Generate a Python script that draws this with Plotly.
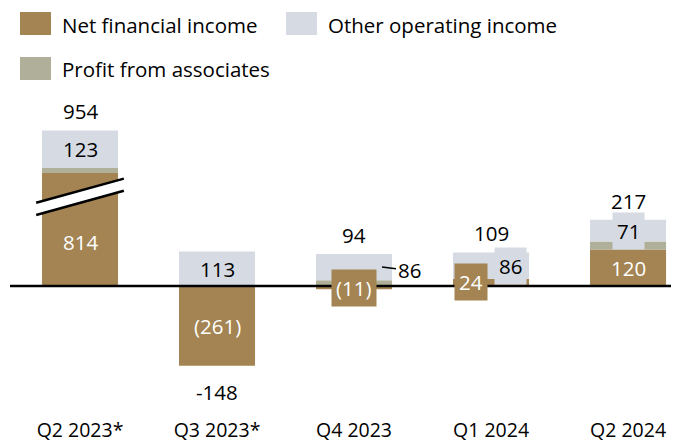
import plotly.graph_objects as go

quarters = ["Q2 2023*", "Q3 2023*", "Q4 2023", "Q1 2024", "Q2 2024"]
net_financial_income = [814, -261, -11, 24, 120]
profit_from_associates = [17, 0, 19, -1, 26]
other_operating_income = [123, 113, 86, 86, 71]
totals = [954, -148, 94, 109, 217]

BROWN = "#A38452"
LIGHT = "#D5DAE3"
GREY = "#B0B09A"
FONT = "Open Sans"
LABEL_SIZE = 20.5

# first bar is cut by an axis break, only this much of it is drawn
axis_break = 370
nfi_shown = [min(v, axis_break) for v in net_financial_income]

x = list(range(len(quarters)))
bar_width = 0.555

fig = go.Figure()
fig.add_trace(go.Bar(x=x, y=nfi_shown, marker_color=BROWN, width=bar_width, name="Net financial income"))
fig.add_trace(go.Bar(x=x, y=profit_from_associates, marker_color=GREY, width=bar_width, name="Profit from associates"))
fig.add_trace(go.Bar(x=x, y=other_operating_income, marker_color=LIGHT, width=bar_width, name="Other operating income"))
fig.update_traces(marker_line_width=0, showlegend=False, hoverinfo="skip")


def fmt(v):
    return f"({abs(v)})" if v < 0 else str(v)


# stack bounds
pos_top = []
neg_bottom = []
ooi_mid = []
for i in x:
    parts = [nfi_shown[i], profit_from_associates[i], other_operating_income[i]]
    pos_top.append(sum(p for p in parts if p > 0))
    neg_bottom.append(sum(p for p in parts if p < 0))
    base = sum(p for p in parts[:2] if p > 0)
    ooi_mid.append(base + other_operating_income[i] / 2)

annotations = []


def label(xv, yv, text, color="black", bg=None, **kw):
    d = dict(x=xv, y=yv, text=text, showarrow=False, font=dict(family=FONT, size=LABEL_SIZE, color=color))
    if bg:
        d.update(bgcolor=bg, borderpad=4)
    d.update(kw)
    annotations.append(d)


# totals
for i in x:
    if totals[i] >= 0:
        label(i, pos_top[i], str(totals[i]), yshift=19)
    else:
        label(i, neg_bottom[i], str(totals[i]), yshift=-26)

# segment labels
label(0, ooi_mid[0], fmt(other_operating_income[0]))
label(0, axis_break * 0.39, fmt(net_financial_income[0]), color="white")
label(1, ooi_mid[1], fmt(other_operating_income[1]))
label(1, net_financial_income[1] / 2, fmt(net_financial_income[1]), color="white")
label(2, net_financial_income[2] / 2, fmt(net_financial_income[2]), color="white", bg=BROWN)
label(2, ooi_mid[2], fmt(other_operating_income[2]), showarrow=True, arrowhead=0, arrowwidth=1.5,
      arrowcolor="black", standoff=0, xshift=28, ax=27, ay=3)
label(3, net_financial_income[3] / 2, fmt(net_financial_income[3]), color="white", bg=BROWN, xshift=-20)
label(3, ooi_mid[3], fmt(other_operating_income[3]), bg=LIGHT, xshift=19)
label(4, net_financial_income[4] / 2, fmt(net_financial_income[4]), color="white")
label(4, ooi_mid[4], fmt(other_operating_income[4]), bg=LIGHT)

shapes = []
# axis break marks on the first bar
bx0, bx1 = -0.32, 0.32
lo0, hi0, rise = 233, 273, 79
shapes.append(dict(type="path", xref="x", yref="y", layer="above",
                   path=f"M {bx0},{lo0} L {bx1},{lo0 + rise} L {bx1},{hi0 + rise} L {bx0},{hi0} Z",
                   fillcolor="white", line_width=0))
for y0 in (lo0, hi0):
    shapes.append(dict(type="line", xref="x", yref="y", layer="above", x0=bx0, x1=bx1,
                       y0=y0, y1=y0 + rise, line=dict(color="black", width=2.5)))

# zero line
shapes.append(dict(type="line", xref="paper", yref="y", layer="above", x0=0, x1=1, y0=0, y1=0,
                   line=dict(color="black", width=2.5)))

# the page body adds an 8px margin, so the figure is that much smaller
OFF = 8
W, H = 679 - OFF, 441 - OFF
ml, mr, mt, mb = 10 - OFF, 0, 95 - OFF, 25
pw, ph = W - ml - mr, H - mt - mb


def px(xp):
    return (xp - OFF - ml) / pw


def py(yp):
    return (H - mb - (yp - OFF)) / ph


# legend drawn by hand (window pixel positions)
legend_items = [
    ("Net financial income", BROWN, 20, 12),
    ("Other operating income", LIGHT, 286, 12),
    ("Profit from associates", GREY, 20, 57),
]
for name, col, lx, ly in legend_items:
    shapes.append(dict(type="rect", xref="paper", yref="paper", x0=px(lx), x1=px(lx + 31),
                       y0=py(ly + 23), y1=py(ly), fillcolor=col, line_width=0))
    annotations.append(dict(xref="paper", yref="paper", x=px(lx + 40), y=py(ly + 12.5), text=name,
                            showarrow=False, xanchor="left", yanchor="middle",
                            font=dict(family=FONT, size=LABEL_SIZE, color="black")))

fig.update_layout(
    barmode="relative",
    width=W,
    height=H,
    margin=dict(l=ml, r=mr, t=mt, b=mb, pad=0),
    plot_bgcolor="white",
    paper_bgcolor="white",
    font=dict(family=FONT, size=19.5, color="black"),
    shapes=shapes,
    annotations=annotations,
    showlegend=False,
)
fig.update_xaxes(range=[-0.511, 4.372], tickvals=x, ticktext=quarters, showgrid=False,
                 zeroline=False, showline=False, ticks="", tickfont=dict(size=19.5),
                 automargin=False)
fig.update_yaxes(range=[-426, 626], visible=False, showgrid=False, zeroline=False,
                 automargin=False)

fig.write_html("out.html")
